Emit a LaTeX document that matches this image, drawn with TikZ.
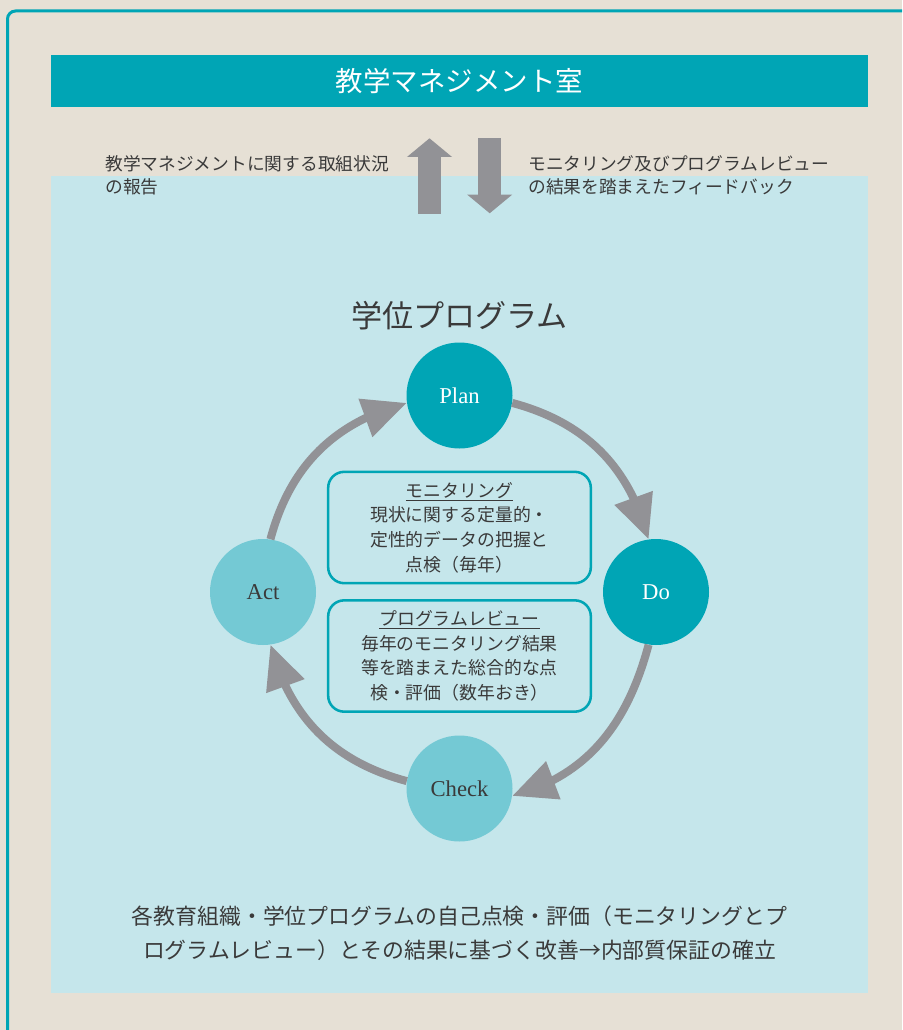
\documentclass[tikz,border=0pt]{standalone}
\usepackage{fontspec}
\setmainfont{Liberation Serif}
\newfontfamily\jp{Noto Sans CJK JP}
\usetikzlibrary{arrows.meta,bending}
\definecolor{paper}{HTML}{E6E0D5}
\definecolor{lightarea}{HTML}{C5E6EB}
\definecolor{teal}{HTML}{00A5B5}
\definecolor{lightteal}{HTML}{74C9D4}
\definecolor{arrowgray}{HTML}{929296}
\definecolor{inkdark}{HTML}{3A3A3A}
\tikzset{
  phase/.style={circle,inner sep=0pt,minimum size=79.5pt,font=\fontsize{17pt}{20pt}\selectfont},
  cycarrow/.style={draw=arrowgray,line width=6pt,-{Triangle[length=33pt,width=29pt]}},
  infobox/.style={draw=teal,line width=1.9pt,rounded corners=12pt,minimum width=197pt,minimum height=83.5pt,
    align=center,text=inkdark,font=\jp\fontsize{13.4pt}{18.5pt}\selectfont},
  blockarrow/.style={draw=arrowgray,line width=17.25pt,-{Triangle[length=14pt,width=33pt]}},
  sidetext/.style={anchor=west,align=left,text=inkdark,inner sep=0pt,font=\jp\fontsize{13.3pt}{17.25pt}\selectfont}
}
\begin{document}
\begin{tikzpicture}[x=0.75pt,y=-0.75pt]
  \useasboundingbox (0,0) rectangle (902,1030);
  \clip (0,0) rectangle (902,1030);
  \fill [paper] (0,0) rectangle (902,1030);
  \draw [teal,line width=2.25pt,rounded corners=6pt] (7.5,11) rectangle (915,1045);
  \fill [lightarea] (51,176) rectangle (868,993);
  % header
  \node [fill=teal,minimum width=612.75pt,minimum height=39pt,inner sep=0pt,text=white,
    font=\jp\fontsize{20.6pt}{24pt}\selectfont] (office) at (459.5,81) {教学マネジメント室};
  \node [sidetext] (report) at (105,175.5) {教学マネジメントに関する取組状況\\の報告};
  \node [sidetext] (feedback) at (528,175.5) {モニタリング及びプログラムレビュー\\の結果を踏まえたフィードバック};
  \coordinate (upfoot) at (429.5,214);
  \coordinate (uptip) at (429.5,138.3);
  \coordinate (dnfoot) at (489.7,138.3);
  \coordinate (dntip) at (489.7,213.3);
  \draw [blockarrow] (upfoot) -- (uptip);
  \draw [blockarrow] (dnfoot) -- (dntip);
  % cycle
  \node [text=inkdark,font=\jp\fontsize{23.3pt}{28pt}\selectfont] (program) at (459.5,316) {学位プログラム};
  \node [phase,fill=teal,text=white] (plan) at (459.5,395.5) {Plan};
  \node [phase,fill=teal,text=white] (do) at (656,592) {Do};
  \node [phase,fill=lightteal,text=inkdark] (check) at (459.5,788.5) {Check};
  \node [phase,fill=lightteal,text=inkdark] (act) at (263,592) {Act};
  \draw [cycarrow] (plan.-8) to[out=-15,in=105] (do.98);
  \draw [cycarrow] (do.-98) to[out=-105,in=15] (check.-8);
  \draw [cycarrow] (check.172) to[out=165,in=-75] (act.-82);
  \draw [cycarrow] (act.82) to[out=75,in=195] (plan.188);
  \node [infobox] (monitor) at (459.5,527.5) {\underline{モニタリング}\\現状に関する定量的・\\定性的データの把握と\\点検（毎年）};
  \node [infobox] (review) at (459.5,656) {\underline{プログラムレビュー}\\毎年のモニタリング結果\\等を踏まえた総合的な点\\検・評価（数年おき）};
  % summary
  \node [align=center,text=inkdark,font=\jp\fontsize{16.4pt}{25.5pt}\selectfont] (summary) at (459.5,933)
    {各教育組織・学位プログラムの自己点検・評価（モニタリングとプ\\ログラムレビュー）とその結果に基づく改善→内部質保証の確立};
\end{tikzpicture}
\end{document}
